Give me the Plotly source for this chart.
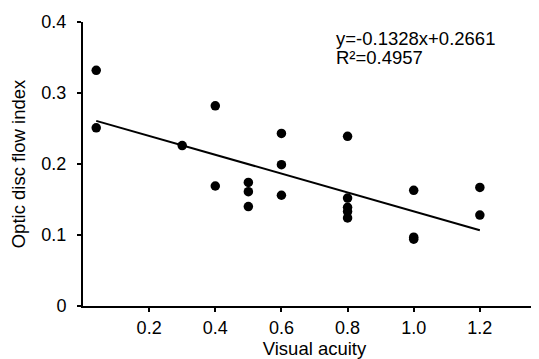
import plotly.graph_objects as go

visual_acuity = [0.04, 0.04, 0.3, 0.4, 0.4, 0.5, 0.5, 0.5, 0.6, 0.6, 0.6,
                 0.8, 0.8, 0.8, 0.8, 0.8, 1.0, 1.0, 1.0, 1.2, 1.2]
flow_index = [0.332, 0.251, 0.226, 0.282, 0.169, 0.174, 0.161, 0.140, 0.243, 0.199, 0.156,
              0.239, 0.152, 0.139, 0.133, 0.124, 0.163, 0.097, 0.094, 0.167, 0.128]
slope = -0.1328
intercept = 0.2661
r2 = 0.4957
x_ticks = [0.2, 0.4, 0.6, 0.8, 1.0, 1.2]
x_ticklabels = ["0.2", "0.4", "0.6", "0.8", "1.0", "1.2"]
y_ticks = [0, 0.1, 0.2, 0.3, 0.4]
y_ticklabels = ["0", "0.1", "0.2", "0.3", "0.4"]

xmin, xmax = min(visual_acuity), max(visual_acuity)
fit_x = [xmin, xmax]
fit_y = [slope * v + intercept for v in fit_x]

font = "Liberation Sans, Arial, sans-serif"

fig = go.Figure()
fig.add_trace(go.Scatter(x=fit_x, y=fit_y, mode="lines",
                         line=dict(color="black", width=2), showlegend=False,
                         hoverinfo="skip"))
fig.add_trace(go.Scatter(x=visual_acuity, y=flow_index, mode="markers",
                         marker=dict(color="black", size=9.5), showlegend=False))

fig.add_annotation(x=0.544, y=0.983, xref="paper", yref="paper", xanchor="left", yanchor="top",
                   text=f"y={slope}x+{intercept}", showarrow=False, align="left", borderpad=0,
                   font=dict(family=font, size=18.5, color="black"))
fig.add_annotation(x=0.544, y=0.915, xref="paper", yref="paper", xanchor="left", yanchor="top",
                   text=f"R\u00b2={r2}", showarrow=False, align="left", borderpad=0,
                   font=dict(family=font, size=18.5, color="black"))

fig.update_layout(
    width=539, height=359,
    margin=dict(l=75, r=1, t=14, b=61),
    paper_bgcolor="white", plot_bgcolor="white",
    font=dict(family=font, size=18, color="black"),
    xaxis=dict(range=[0, 1.4], tickvals=x_ticks, ticktext=x_ticklabels,
               showline=True, linecolor="black", linewidth=2, showgrid=False, zeroline=False,
               ticks="outside", ticklen=4, tickwidth=1.5, tickcolor="black",
               tickfont=dict(size=18),
               title=dict(text="Visual acuity", standoff=3, font=dict(size=18.5))),
    yaxis=dict(range=[0, 0.4], tickvals=y_ticks, ticktext=y_ticklabels,
               showline=True, linecolor="black", linewidth=2, showgrid=False, zeroline=False,
               ticks="outside", ticklen=4, tickwidth=1.5, tickcolor="black",
               tickfont=dict(size=18), ticklabelstandoff=7,
               title=dict(text="Optic disc flow index", standoff=12, font=dict(size=18.5))),
)

fig.write_html("out.html")
